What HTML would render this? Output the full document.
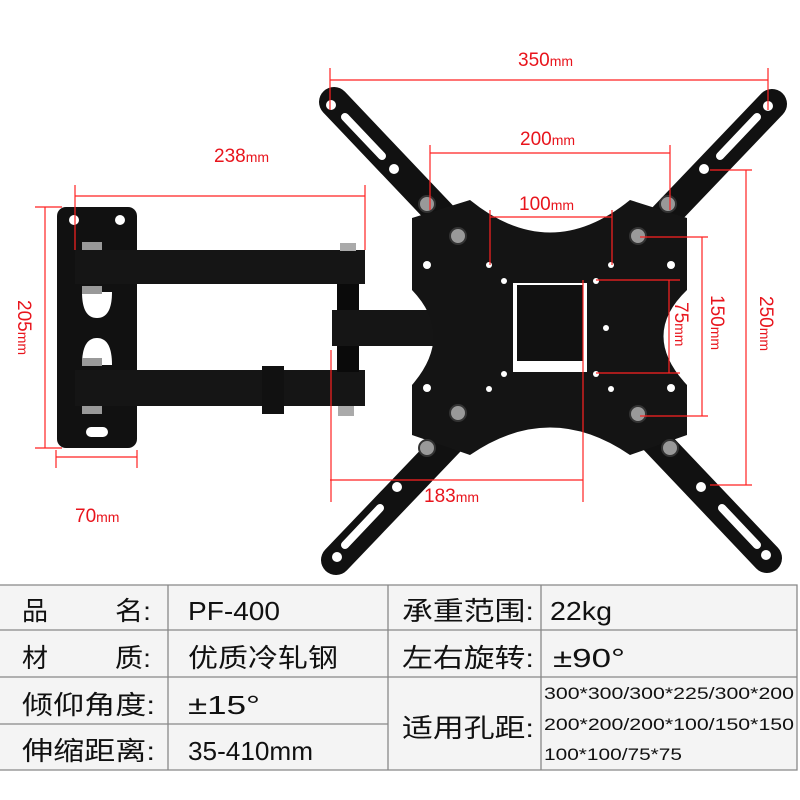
<!DOCTYPE html>
<html><head><meta charset="utf-8"><style>
body{margin:0;width:800px;height:800px;background:#fff;overflow:hidden;position:relative;font-family:"Liberation Sans","Noto Sans CJK SC",sans-serif}
svg{position:absolute;left:0;top:0}
</style></head><body>
<svg width="800" height="800" viewBox="0 0 800 800">
<!-- wall plate -->
<rect x="57" y="207" width="80" height="241" rx="9" fill="#111"/>
<circle cx="74" cy="220" r="5" fill="#fff"/><circle cx="120" cy="220" r="5" fill="#fff"/>
<path d="M82,292 L112,292 Q112,318 97,318 Q82,318 82,292Z" fill="#fff"/>
<path d="M82,365 L112,365 Q112,338 97,338 Q82,338 82,365Z" fill="#fff"/>
<rect x="86" y="427" width="22" height="10" rx="5" fill="#fff"/>
<!-- arms -->
<rect x="75" y="250" width="290" height="34" fill="#151515"/>
<rect x="75" y="370" width="290" height="36" fill="#151515"/>
<rect x="262" y="366" width="22" height="48" fill="#111"/>
<rect x="337" y="284" width="22" height="88" fill="#0a0a0a"/>
<rect x="332" y="310" width="110" height="36" fill="#151515"/>
<rect x="340" y="243" width="16" height="8" fill="#aaa"/><rect x="338" y="406" width="16" height="10" fill="#aaa"/>
<rect x="82" y="242" width="20" height="8" fill="#999"/><rect x="82" y="286" width="20" height="8" fill="#999"/>
<rect x="82" y="358" width="20" height="8" fill="#999"/><rect x="82" y="406" width="20" height="8" fill="#999"/>
<!-- cross arms -->
<g stroke="#111" stroke-width="30" stroke-linecap="round">
<line x1="334" y1="102" x2="767" y2="558"/><line x1="772" y1="104" x2="336" y2="560"/></g>
<g stroke="#fff" stroke-width="8" stroke-linecap="round">
<line x1="345" y1="117" x2="382" y2="156"/><line x1="757" y1="117" x2="720" y2="156"/>
<line x1="345" y1="545" x2="380" y2="508"/><line x1="757" y1="545" x2="722" y2="508"/></g>
<g fill="#fff"><circle cx="331" cy="105" r="5"/><circle cx="768" cy="106" r="5"/><circle cx="337" cy="557" r="5"/><circle cx="766" cy="555" r="5"/>
<circle cx="394" cy="169" r="5"/><circle cx="704" cy="169" r="5"/><circle cx="397" cy="487" r="5"/><circle cx="701" cy="487" r="5"/></g>
<!-- plate -->
<path d="M412,218 L470,200 Q550,265 630,200 L687,218 L687,290 Q640,335 687,385 L687,435 L630,455 Q550,400 470,455 L412,435 L412,385 Q455,335 412,290 Z" fill="#141414"/>
<rect x="513" y="283" width="74" height="89" fill="#fff"/>
<rect x="517" y="285" width="66" height="76" fill="#111"/>
<g fill="#fff"><circle cx="427" cy="265" r="4"/><circle cx="671" cy="265" r="4"/><circle cx="427" cy="388" r="4"/><circle cx="671" cy="388" r="4"/>
<circle cx="489" cy="265" r="3"/><circle cx="611" cy="265" r="3"/><circle cx="504" cy="281" r="3"/><circle cx="596" cy="281" r="3"/>
<circle cx="504" cy="374" r="3"/><circle cx="596" cy="374" r="3"/><circle cx="489" cy="389" r="3"/><circle cx="611" cy="389" r="3"/><circle cx="606" cy="328" r="3"/></g>
<g fill="#999" stroke="#333" stroke-width="2">
<circle cx="427" cy="204" r="8"/><circle cx="668" cy="204" r="8"/><circle cx="458" cy="236" r="8"/><circle cx="638" cy="236" r="8"/>
<circle cx="458" cy="413" r="8"/><circle cx="638" cy="414" r="8"/><circle cx="427" cy="448" r="8"/><circle cx="670" cy="448" r="8"/></g>
<!-- dims -->
<g stroke="#f22" stroke-width="1.2" fill="none">
<path d="M75,196H365M75,185V250M365,185V250"/>
<path d="M45,207V448M35,207H62M35,448H62"/>
<path d="M56,457H137M56,450V468M137,450V468"/>
<path d="M330,80H768M330,68V110M768,68V110"/>
<path d="M430,153H670M430,145V210M670,145V210"/>
<path d="M490,217H612M490,210V265M612,210V265"/>
<path d="M669,280V373M596,280H680M596,373H680"/>
<path d="M702,237V416M640,237H708M640,416H708"/>
<path d="M746,170V485M710,170H752M710,485H752"/>
<path d="M330,480H583M331,350V502M583,280V502"/>
</g>
<g fill="#e8141c" font-family="Liberation Sans,sans-serif" font-size="19">
<text x="214" y="162">238<tspan font-size="14">mm</tspan></text>
<text x="75" y="522">70<tspan font-size="14">mm</tspan></text>
<text x="518" y="66">350<tspan font-size="14">mm</tspan></text>
<text x="520" y="145">200<tspan font-size="14">mm</tspan></text>
<text x="519" y="210">100<tspan font-size="14">mm</tspan></text>
<text x="424" y="502">183<tspan font-size="14">mm</tspan></text>
<text transform="translate(18,300) rotate(90)">205<tspan font-size="14">mm</tspan></text>
<text transform="translate(675,302) rotate(90)">75<tspan font-size="14">mm</tspan></text>
<text transform="translate(711,295) rotate(90)">150<tspan font-size="14">mm</tspan></text>
<text transform="translate(760,296) rotate(90)">250<tspan font-size="14">mm</tspan></text>
</g>
<!-- table -->
<rect x="0" y="585" width="797" height="185" fill="#f4f4f4"/>
<g stroke="#888" stroke-width="1.3" fill="none">
<path d="M0,585H797V770H0M0,630H797M0,677H797M0,724H388M168,585V770M388,585V770M541,585V770"/>
</g>
<g fill="#111" font-size="26" font-family="Liberation Sans,Noto Sans CJK SC,sans-serif" lengthAdjust="spacingAndGlyphs">
<text x="22" y="620">品</text><text x="115" y="620" textLength="36" lengthAdjust="spacingAndGlyphs">名:</text>
<text x="22" y="667">材</text><text x="115" y="667" textLength="36" lengthAdjust="spacingAndGlyphs">质:</text>
<text x="22" y="714" textLength="133" lengthAdjust="spacingAndGlyphs">倾仰角度:</text>
<text x="22" y="760" textLength="133" lengthAdjust="spacingAndGlyphs">伸缩距离:</text>
<text x="188" y="620" textLength="92" lengthAdjust="spacingAndGlyphs">PF-400</text>
<text x="188" y="667" textLength="150" lengthAdjust="spacingAndGlyphs">优质冷轧钢</text>
<text x="188" y="714" textLength="72" lengthAdjust="spacingAndGlyphs">±15°</text>
<text x="188" y="760" textLength="125" lengthAdjust="spacingAndGlyphs">35-410mm</text>
<text x="402" y="620" textLength="132" lengthAdjust="spacingAndGlyphs">承重范围:</text>
<text x="402" y="667" textLength="132" lengthAdjust="spacingAndGlyphs">左右旋转:</text>
<text x="402" y="737" textLength="132" lengthAdjust="spacingAndGlyphs">适用孔距:</text>
<text x="550" y="620" textLength="62" lengthAdjust="spacingAndGlyphs">22kg</text>
<text x="553" y="667" textLength="72" lengthAdjust="spacingAndGlyphs">±90°</text>
</g>
<g fill="#111" font-size="17" font-family="Liberation Sans,sans-serif">
<text x="544" y="699" textLength="250" lengthAdjust="spacingAndGlyphs">300*300/300*225/300*200</text>
<text x="544" y="730" textLength="250" lengthAdjust="spacingAndGlyphs">200*200/200*100/150*150</text>
<text x="544" y="760" textLength="138" lengthAdjust="spacingAndGlyphs">100*100/75*75</text>
</g>
</svg>
</body></html>
